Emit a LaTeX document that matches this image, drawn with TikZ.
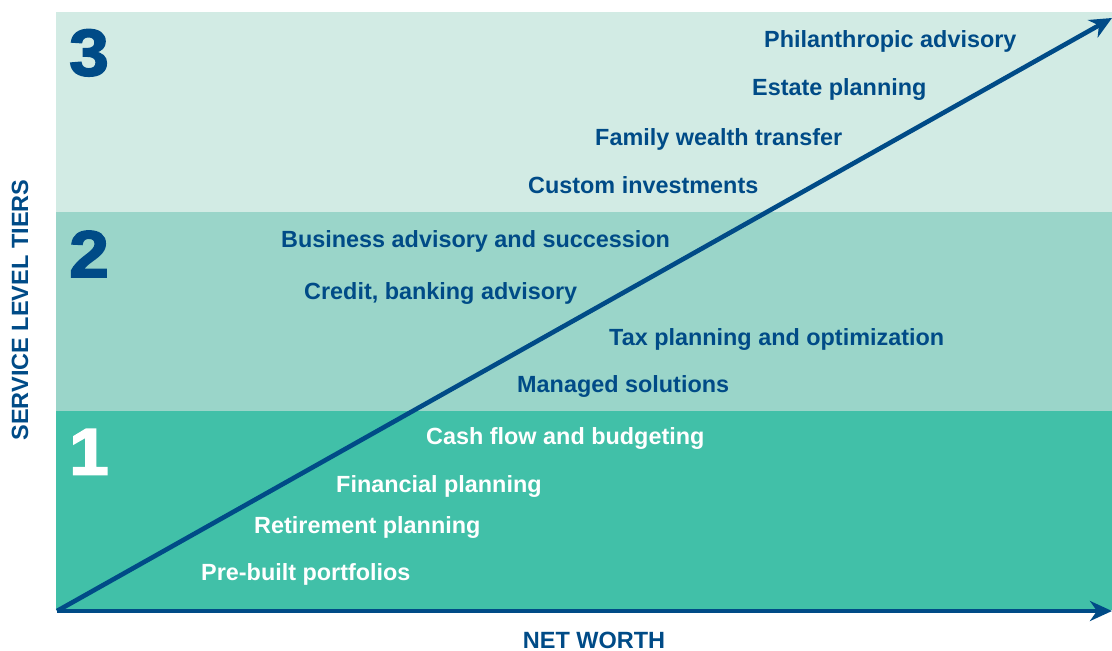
\documentclass[tikz,border=0pt]{standalone}
\usepackage{fontspec}
\setmainfont{Liberation Sans}
\newfontfamily\numfont[FakeBold=2.5,FakeStretch=1.08]{Liberation Sans Bold}
\usetikzlibrary{arrows.meta}
\definecolor{tierA}{HTML}{D2EBE4}
\definecolor{tierB}{HTML}{9AD5C9}
\definecolor{tierC}{HTML}{41C0A8}
\definecolor{navy}{HTML}{004B87}
\begin{document}
\begin{tikzpicture}[x=1pt,y=-1pt,
  item/.style={anchor=base west,inner sep=0pt,font=\fontsize{23.4}{26}\selectfont\bfseries,text=navy},
  itemw/.style={item,text=white},
  tiernum/.style={anchor=base west,inner sep=0pt,font=\fontsize{66}{66}\numfont},
  axislabel/.style={inner sep=0pt,font=\fontsize{23.5}{26}\selectfont\bfseries,text=navy},
  axis/.style={draw=navy,line width=4.6pt,-{Stealth[length=22pt,width=20pt,inset=7pt]}}]
\useasboundingbox (0,0) rectangle (1112,651);
\fill[tierA] (56,12) rectangle (1112,212);
\fill[tierB] (56,212) rectangle (1112,411);
\fill[tierC] (56,411) rectangle (1112,610);
\node[tiernum,text=navy] (t3) at (69,75.5) {3};
\node[tiernum,text=navy] (t2) at (69,277) {2};
\node[tiernum,text=white] (t1) at (69,474.5) {1};
\node[item] (p1) at (764,47.5) {Philanthropic advisory};
\node[item] (p2) at (752,95) {Estate planning};
\node[item] (p3) at (595,145) {Family wealth transfer};
\node[item] (p4) at (528,193) {Custom investments};
\node[item] (p5) at (281,247.5) {Business advisory and succession};
\node[item] (p6) at (304,299) {Credit, banking advisory};
\node[item] (p7) at (609,345) {Tax planning and optimization};
\node[item] (p8) at (517,392) {Managed solutions};
\node[itemw] (p9) at (426,444) {Cash flow and budgeting};
\node[itemw] (p10) at (336,492) {Financial planning};
\node[itemw] (p11) at (254,533.5) {Retirement planning};
\node[itemw] (p12) at (201,580) {Pre-built portfolios};
\node[axislabel,rotate=90] (ylab) at (20,310) {SERVICE LEVEL TIERS};
\node[axislabel] (xlab) at (594,640) {NET WORTH};
\coordinate (o) at (57,611);
\coordinate (xe) at (1112,611);
\coordinate (de) at (1112,18);
\draw[axis] (o) -- (xe);
\draw[axis] (o) -- (de);
\end{tikzpicture}
\end{document}
